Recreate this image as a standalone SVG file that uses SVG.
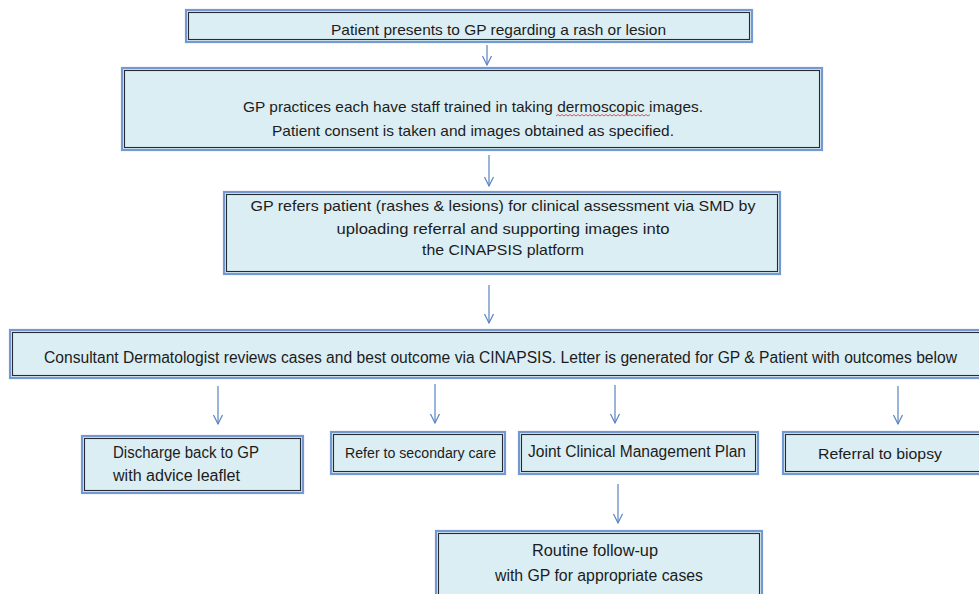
<svg xmlns="http://www.w3.org/2000/svg" width="979" height="594" viewBox="0 0 979 594">
  <defs>
    <style>
      .outer { fill: #dbeef4; stroke: #7399d0; stroke-width: 2.2; }
      .inner { fill: none; stroke: #262a31; stroke-width: 1.1; }
      .t { font-family: "Liberation Sans", Arial, sans-serif; fill: #1c1c1c; }
      .c { text-anchor: middle; }
      .arrow { stroke: #5a82c2; stroke-width: 1.2; fill: none; }
    </style>
    <marker id="ah" viewBox="0 0 12 12" refX="10" refY="6" markerWidth="12" markerHeight="12" markerUnits="userSpaceOnUse" orient="auto">
      <path d="M1,1.5 L10,6 L1,10.5" fill="none" stroke="#5a82c2" stroke-width="1.2"/>
    </marker>
  </defs>
  <rect width="979" height="594" fill="#ffffff"/>

  <g id="connectors">
    <line class="arrow" x1="487" y1="45" x2="487" y2="65" marker-end="url(#ah)"/>
    <line class="arrow" x1="489" y1="155" x2="489" y2="186" marker-end="url(#ah)"/>
    <line class="arrow" x1="489" y1="285" x2="489" y2="323" marker-end="url(#ah)"/>
    <line class="arrow" x1="218" y1="386" x2="218" y2="424" marker-end="url(#ah)"/>
    <line class="arrow" x1="435" y1="384" x2="435" y2="423" marker-end="url(#ah)"/>
    <line class="arrow" x1="615" y1="385" x2="615" y2="423" marker-end="url(#ah)"/>
    <line class="arrow" x1="898" y1="386" x2="898" y2="424" marker-end="url(#ah)"/>
    <line class="arrow" x1="618" y1="484" x2="618" y2="523" marker-end="url(#ah)"/>
  </g>

  <g id="n1">
    <rect class="outer" x="186" y="10" width="566" height="32"/>
    <rect class="inner" x="188.5" y="12.5" width="561" height="27"/>
    <text class="t" x="331" y="35" font-size="15" textLength="335" lengthAdjust="spacingAndGlyphs">Patient presents to GP regarding a rash or lesion</text>
  </g>

  <g id="n2">
    <rect class="outer" x="122" y="68" width="700" height="82"/>
    <rect class="inner" x="124.5" y="70.5" width="695" height="77"/>
    <text class="t" x="243" y="112" font-size="15" textLength="460" lengthAdjust="spacingAndGlyphs">GP practices each have staff trained in taking dermoscopic images.</text>
    <text class="t" x="272" y="136" font-size="15" textLength="402" lengthAdjust="spacingAndGlyphs">Patient consent is taken and images obtained as specified.</text>
    <path d="M556,116 l2,-1.5 l2,1.5 l2,-1.5 l2,1.5 l2,-1.5 l2,1.5 l2,-1.5 l2,1.5 l2,-1.5 l2,1.5 l2,-1.5 l2,1.5 l2,-1.5 l2,1.5 l2,-1.5 l2,1.5 l2,-1.5 l2,1.5 l2,-1.5 l2,1.5 l2,-1.5 l2,1.5 l2,-1.5 l2,1.5 l2,-1.5 l2,1.5 l2,-1.5 l2,1.5 l2,-1.5 l2,1.5 l2,-1.5 l2,1.5 l2,-1.5 l2,1.5 l2,-1.5 l2,1.5 l2,-1.5 l2,1.5 l2,-1.5 l2,1.5 l2,-1.5 l2,1.5 l2,-1.5 l2,1.5 l2,-1.5 l2,1.5 l2,-1.5" fill="none" stroke="#e03030" stroke-width="0.8"/>
  </g>

  <g id="n3">
    <rect class="outer" x="224" y="192" width="556" height="82"/>
    <rect class="inner" x="226.5" y="194.5" width="551" height="77"/>
    <text class="t c" x="503" y="211" font-size="15" textLength="505" lengthAdjust="spacingAndGlyphs">GP refers patient (rashes &amp; lesions) for clinical assessment via SMD by</text>
    <text class="t c" x="503" y="234" font-size="15" textLength="333" lengthAdjust="spacingAndGlyphs">uploading referral and supporting images into</text>
    <text class="t c" x="503" y="255" font-size="15" textLength="162" lengthAdjust="spacingAndGlyphs">the CINAPSIS platform</text>
  </g>

  <g id="n4">
    <rect class="outer" x="10" y="330" width="985" height="48"/>
    <rect class="inner" x="12.5" y="332.5" width="980" height="43"/>
    <text class="t" x="44" y="363" font-size="16" textLength="913" lengthAdjust="spacingAndGlyphs">Consultant Dermatologist reviews cases and best outcome via CINAPSIS.  Letter is generated for GP &amp; Patient with outcomes below</text>
  </g>

  <g id="n5">
    <rect class="outer" x="82" y="436" width="221" height="57"/>
    <rect class="inner" x="84.5" y="438.5" width="216" height="52"/>
    <text class="t" x="113" y="458" font-size="16" textLength="146" lengthAdjust="spacingAndGlyphs">Discharge back to GP</text>
    <text class="t" x="113" y="481" font-size="16" textLength="127" lengthAdjust="spacingAndGlyphs">with advice leaflet</text>
  </g>

  <g id="n6">
    <rect class="outer" x="331" y="432" width="174" height="42"/>
    <rect class="inner" x="333.5" y="434.5" width="169" height="37"/>
    <text class="t" x="345" y="458" font-size="14" textLength="151" lengthAdjust="spacingAndGlyphs">Refer to secondary care</text>
  </g>

  <g id="n7">
    <rect class="outer" x="519" y="432" width="239" height="42"/>
    <rect class="inner" x="521.5" y="434.5" width="234" height="37"/>
    <text class="t" x="528" y="457" font-size="16" textLength="218" lengthAdjust="spacingAndGlyphs">Joint Clinical Management Plan</text>
  </g>

  <g id="n8">
    <rect class="outer" x="783" y="432" width="205" height="42"/>
    <rect class="inner" x="785.5" y="434.5" width="200" height="37"/>
    <text class="t" x="818" y="459" font-size="15.5" textLength="124" lengthAdjust="spacingAndGlyphs">Referral to biopsy</text>
  </g>

  <g id="n9">
    <rect class="outer" x="436" y="531" width="326" height="80"/>
    <rect class="inner" x="438.5" y="533.5" width="321" height="75"/>
    <text class="t c" x="595" y="556" font-size="16" textLength="126" lengthAdjust="spacingAndGlyphs">Routine follow-up</text>
    <text class="t c" x="599" y="581" font-size="16" textLength="208" lengthAdjust="spacingAndGlyphs">with GP for appropriate cases</text>
  </g>
</svg>
